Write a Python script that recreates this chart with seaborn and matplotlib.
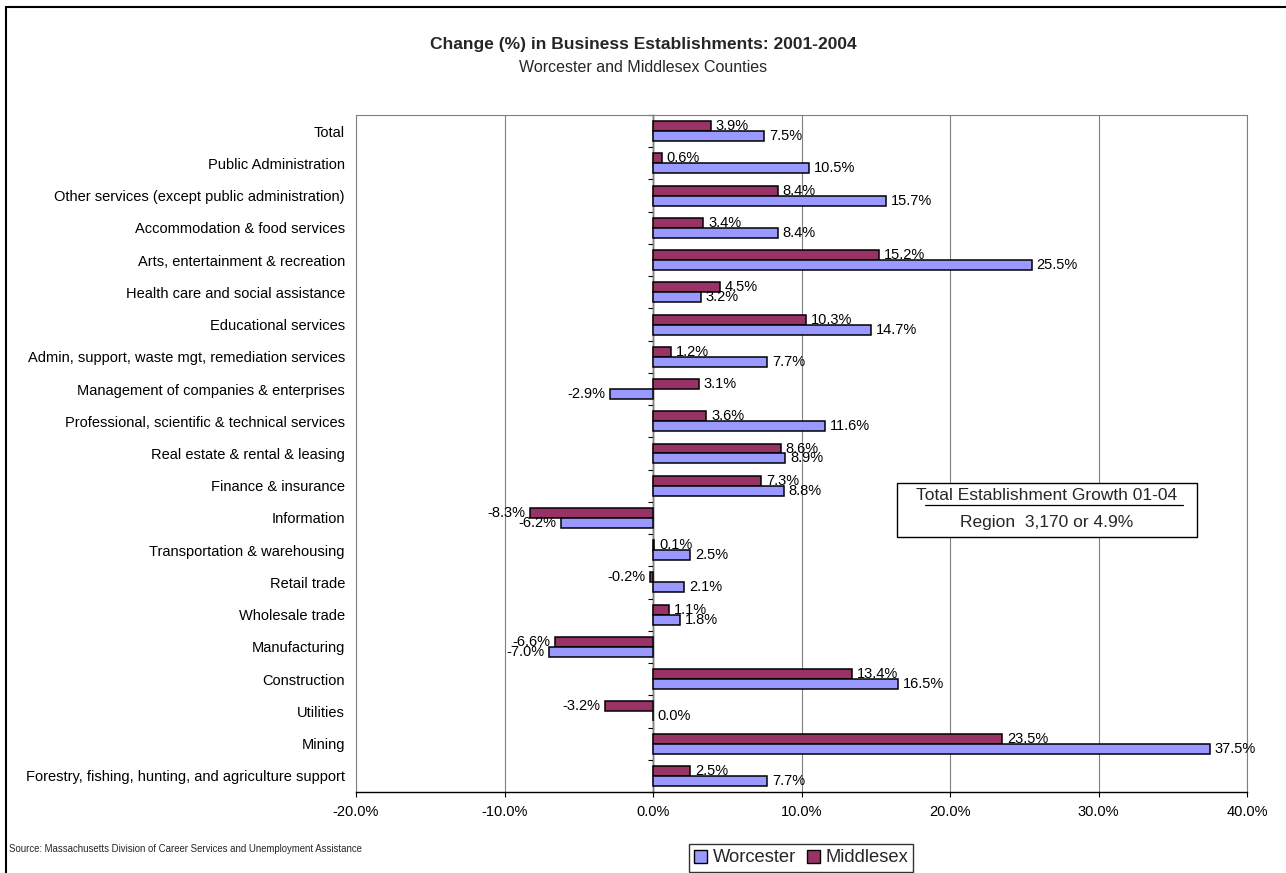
import matplotlib
matplotlib.use("Agg")
import matplotlib.pyplot as plt
import matplotlib.patches as mpatches
from matplotlib.lines import Line2D
import seaborn as sns
import pandas as pd

categories = [
    "Total",
    "Public Administration",
    "Other services (except public administration)",
    "Accommodation & food services",
    "Arts, entertainment & recreation",
    "Health care and social assistance",
    "Educational services",
    "Admin, support, waste mgt, remediation services",
    "Management of companies & enterprises",
    "Professional, scientific & technical services",
    "Real estate & rental & leasing",
    "Finance & insurance",
    "Information",
    "Transportation & warehousing",
    "Retail trade",
    "Wholesale trade",
    "Manufacturing",
    "Construction",
    "Utilities",
    "Mining",
    "Forestry, fishing, hunting, and agriculture support",
]
worcester = [7.5, 10.5, 15.7, 8.4, 25.5, 3.2, 14.7, 7.7, -2.9, 11.6, 8.9, 8.8,
             -6.2, 2.5, 2.1, 1.8, -7.0, 16.5, 0.0, 37.5, 7.7]
middlesex = [3.9, 0.6, 8.4, 3.4, 15.2, 4.5, 10.3, 1.2, 3.1, 3.6, 8.6, 7.3,
             -8.3, 0.1, -0.2, 1.1, -6.6, 13.4, -3.2, 23.5, 2.5]
x_ticks = [-20, -10, 0, 10, 20, 30, 40]

title = "Change (%) in Business Establishments: 2001-2004"
subtitle = "Worcester and Middlesex Counties"
source = "Source: Massachusetts Division of Career Services and Unemployment Assistance"
box_line1 = "Total Establishment Growth 01-04"
box_line2 = "Region  3,170 or 4.9%"

colors = {"Worcester": "#9999FF", "Middlesex": "#993366"}

sns.set_theme(style="white")
plt.rcParams["font.family"] = ["Liberation Sans", "DejaVu Sans"]

df = pd.DataFrame({
    "Category": categories * 2,
    "County": ["Middlesex"] * len(categories) + ["Worcester"] * len(categories),
    "Value": middlesex + worcester,
})

W, H = 1286, 873
fig = plt.figure(figsize=(W / 100, H / 100), dpi=100)
ax = fig.add_axes([356 / W, 1 - 792 / H, (1247 - 356) / W, (792 - 115) / H])

sns.barplot(data=df, y="Category", x="Value", hue="County",
            hue_order=["Middlesex", "Worcester"], order=categories,
            palette=colors, orient="h", width=0.62, saturation=1,
            edgecolor="black", linewidth=1.1, legend=False, ax=ax, zorder=3)

ax.set_xlim(-20, 40)
ax.set_ylim(len(categories) - 0.5, -0.5)
ax.set_xticks(x_ticks)
ax.set_xticklabels([f"{v:.1f}%" for v in x_ticks], fontsize=10.5, color="black")
ax.tick_params(axis="x", direction="out", length=3.5, width=0.8, color="black", pad=6, bottom=True)
ax.tick_params(axis="y", length=0, pad=8, labelsize=10.5, labelcolor="black")
ax.set_xlabel("")
ax.set_ylabel("")

ax.grid(axis="x", color="#808080", linewidth=0.8, zorder=0)
ax.grid(axis="y", visible=False)
for side in ["left", "top", "right"]:
    ax.spines[side].set_visible(True)
    ax.spines[side].set_color("#808080")
    ax.spines[side].set_linewidth(0.8)
ax.spines["bottom"].set_color("black")
ax.spines["bottom"].set_linewidth(1.0)

# zero axis with tick marks at category boundaries
sec = ax.secondary_yaxis(1 / 3)
sec.set_yticks([i - 0.5 for i in range(len(categories) + 1)])
sec.set_yticklabels([])
sec.tick_params(axis="y", direction="out", length=3.5, width=0.8, color="black")
for s in sec.spines.values():
    s.set_color("black")
    s.set_linewidth(1.0)

for c in ax.containers:
    ax.bar_label(c, fmt="%.1f%%", padding=3.5, fontsize=10.5, color="black", zorder=4)

# Titles
fig.text(0.5, 1 - 45 / H, title, ha="center", va="center", fontsize=12.5, fontweight="bold")
fig.text(0.5, 1 - 67 / H, subtitle, ha="center", va="center", fontsize=11.5)
fig.text(9 / W, 1 - 849 / H, source, ha="left", va="center", fontsize=6.9)

# Annotation box
box = mpatches.Rectangle((897 / W, 1 - 537 / H), (1197 - 897) / W, (537 - 483) / H,
                         transform=fig.transFigure, facecolor="white", edgecolor="black",
                         linewidth=1.0, zorder=5)
fig.patches.append(box)
fig.text(1047 / W, 1 - 496 / H, box_line1, ha="center", va="center", fontsize=12.5, zorder=6)
fig.lines.append(Line2D([925 / W, 1183 / W], [1 - 505 / H, 1 - 505 / H],
                        transform=fig.transFigure, color="black", linewidth=0.9, zorder=6))
fig.text(1047 / W, 1 - 522 / H, box_line2, ha="center", va="center", fontsize=12.5, zorder=6)

# Legend
handles = [mpatches.Patch(facecolor=colors["Worcester"], edgecolor="black", label="Worcester"),
           mpatches.Patch(facecolor=colors["Middlesex"], edgecolor="black", label="Middlesex")]
leg = fig.legend(handles=handles, loc="center", bbox_to_anchor=(801 / W, 1 - 858 / H),
                 ncol=2, fontsize=13.2, frameon=True, fancybox=False, edgecolor="black",
                 handlelength=0.7, handleheight=0.7, handletextpad=0.3, columnspacing=0.6,
                 borderpad=0.3, borderaxespad=0)
leg.get_frame().set_linewidth(1.0)

# Figure border
border = mpatches.Rectangle((6 / W, -0.05), 1.2, 1 - 7 / H + 0.05, transform=fig.transFigure,
                            fill=False, edgecolor="black", linewidth=1.5)
fig.patches.append(border)

fig.savefig("out.png", dpi=100)
